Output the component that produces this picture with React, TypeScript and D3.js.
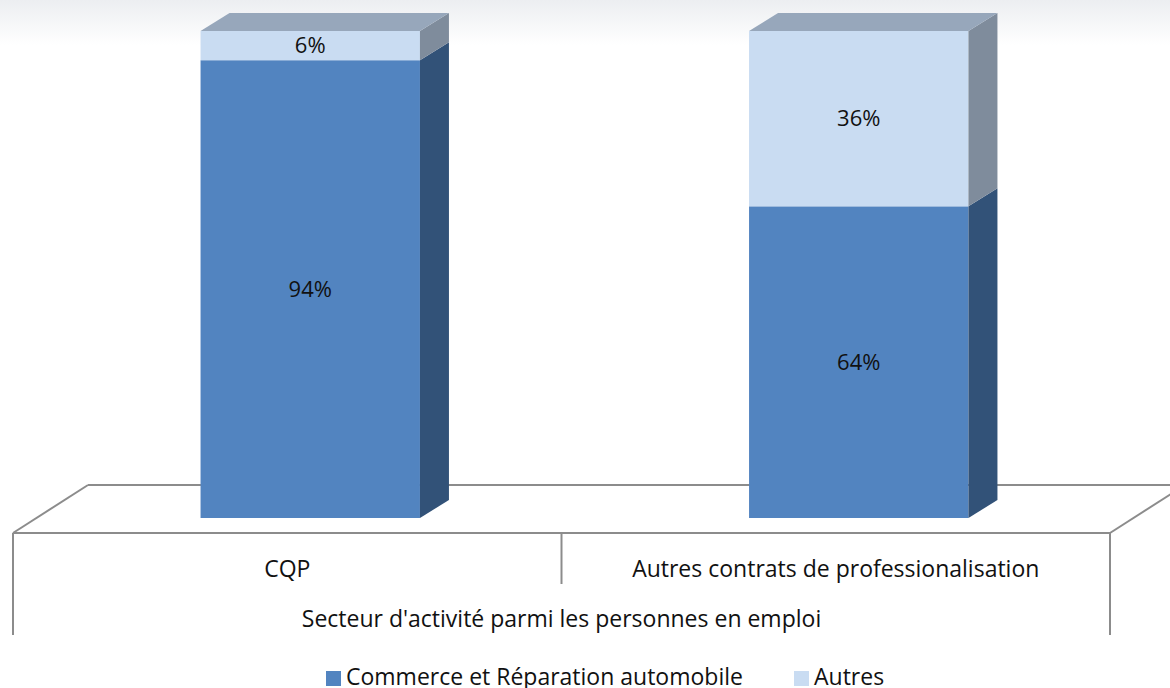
import React from 'react';
import * as d3 from 'd3';

const categories = ['CQP', 'Autres contrats de professionalisation'];
const seriesNames = ['Commerce et Réparation automobile', 'Autres'];
const commerce = [0.94, 0.64];
const autres = [0.06, 0.36];
const axisTitle = "Secteur d'activité parmi les personnes en emploi";

const W = 1170;
const H = 688;
const FONT = '"Open Sans", "DejaVu Sans", sans-serif';

const colors = [
  { front: '#5284c0', side: '#325278', top: '#3f6591' },
  { front: '#c9dcf2', side: '#7f8c9c', top: '#97a7bb' },
];

export default function App() {
  // floor (front wall) geometry
  const floorLeft = 13;
  const floorRight = 1110;
  const floorFront = 533;
  const floorDepth = [75, -48];
  const barDepth = [29, -18];
  const barShift = [23, -15];

  const x = d3.scaleBand<string>()
    .domain(categories)
    .range([floorLeft, floorRight])
    .paddingInner(0.6)
    .paddingOuter(0.3);

  const y = d3.scaleLinear().domain([0, 1]).range([518, 31]);

  const stack = d3.stack<any>().keys(['commerce', 'autres']);
  const rows = categories.map((c, i) => ({ cat: c, commerce: commerce[i], autres: autres[i] }));
  const series = stack(rows);

  const bw = x.bandwidth();
  const [dx, dy] = barDepth;

  const faces: any[] = [];
  const labels: any[] = [];
  series.forEach((s, si) => {
    s.forEach((d, i) => {
      const x0 = (x(categories[i]) as number) + barShift[0];
      const x1 = x0 + bw;
      const yTop = y(d[1]);
      const yBot = y(d[0]);
      const c = colors[si];
      faces.push(
        <g key={`b-${si}-${i}`}>
          <rect x={x0} y={yTop} width={bw} height={yBot - yTop} fill={c.front} />
          <polygon
            points={`${x1},${yTop} ${x1 + dx},${yTop + dy} ${x1 + dx},${yBot + dy} ${x1},${yBot}`}
            fill={c.side}
          />
          {d[1] >= 0.999 && (
            <polygon
              points={`${x0},${yTop} ${x0 + dx},${yTop + dy} ${x1 + dx},${yTop + dy} ${x1},${yTop}`}
              fill={c.top}
            />
          )}
        </g>
      );
      labels.push(
        <text
          key={`l-${si}-${i}`}
          x={(x0 + x1) / 2}
          y={(yTop + yBot) / 2}
          dy="0.35em"
          textAnchor="middle"
          fontSize={22}
          fill="#111"
        >
          {d3.format('.0%')(d[1] - d[0])}
        </text>
      );
    });
  });

  const stroke = '#8c8c8c';
  const backY = floorFront + floorDepth[1];
  const mid = (floorLeft + floorRight) / 2;

  return (
    <div style={{ position: 'fixed', left: 0, top: 0 }}>
      <svg width={W} height={H} style={{ display: 'block', fontFamily: FONT }}>
        <defs>
          <linearGradient id="bg" x1="0" y1="0" x2="0" y2="1">
            <stop offset="0" stopColor="#eceef1" />
            <stop offset="1" stopColor="#ffffff" />
          </linearGradient>
        </defs>
        <rect width={W} height={H} fill="#fff" />
        <rect width={W} height={45} fill="url(#bg)" />

        {/* floor */}
        <g fill="none" stroke={stroke} strokeWidth={2}>
          <line x1={floorLeft + floorDepth[0]} y1={backY} x2={W} y2={backY} />
          <line x1={floorLeft} y1={floorFront} x2={floorLeft + floorDepth[0]} y2={backY} />
          <line x1={floorRight} y1={floorFront} x2={floorRight + floorDepth[0]} y2={backY} />
        </g>

        {faces}
        {labels}

        <g fill="none" stroke={stroke} strokeWidth={2}>
          <line x1={floorLeft} y1={floorFront} x2={floorRight} y2={floorFront} />
          <line x1={floorLeft} y1={floorFront} x2={floorLeft} y2={635} />
          <line x1={floorRight} y1={floorFront} x2={floorRight} y2={635} />
          <line x1={mid} y1={floorFront} x2={mid} y2={584} />
        </g>

        {categories.map((c) => (
          <text
            key={c}
            x={(x(c) as number) + bw / 2}
            y={577}
            textAnchor="middle"
            fontSize={23}
            fill="#111"
          >
            {c}
          </text>
        ))}
        <text x={mid} y={627} textAnchor="middle" fontSize={23} fill="#111">
          {axisTitle}
        </text>

        {/* legend */}
        <g>
          <rect x={326} y={671} width={15} height={15} fill={colors[0].front} />
          <text x={346} y={685} fontSize={23} fill="#111">{seriesNames[0]}</text>
          <rect x={794} y={671} width={15} height={15} fill={colors[1].front} />
          <text x={814} y={685} fontSize={23} fill="#111">{seriesNames[1]}</text>
        </g>
      </svg>
    </div>
  );
}
